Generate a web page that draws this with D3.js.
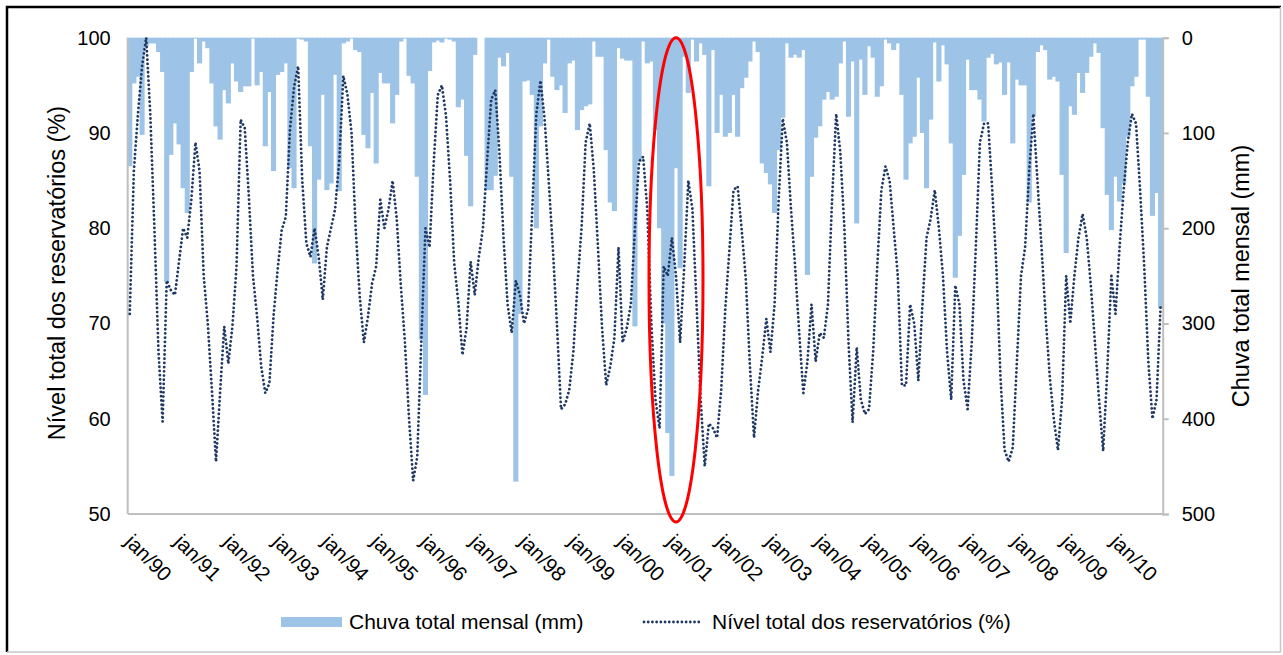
<!DOCTYPE html>
<html>
<head>
<meta charset="utf-8">
<script src="https://cdn.jsdelivr.net/npm/d3@7"></script>
<style>
  body { margin: 0; background: #fff; }
  svg { font-family: "Liberation Sans", Arial, sans-serif; }
</style>
</head>
<body>
<div id="graph"></div>
<script>
// anos e meses (categorias)
var anos = ["90","91","92","93","94","95","96","97","98","99","00","01","02","03","04","05","06","07","08","09","10"];
var meses = ["jan","fev","mar","abr","mai","jun","jul","ago","set","out","nov","dez"];

// chuva total mensal (mm), jan..dez de cada ano
var chuva = [
  135, 48, 41, 102, 9, 6, 6, 15, 36, 257, 123, 90,      // 1990
  112, 158, 184, 36, 1, 27, 4, 11, 48, 93, 107, 55,     // 1991
  69, 27, 46, 57, 51, 51, 1, 50, 36, 114, 57, 140,      // 1992
  39, 36, 27, 137, 158, 1, 2, 4, 114, 237, 149, 60,     // 1993
  160, 153, 39, 161, 6, 4, 1, 13, 15, 102, 116, 58,     // 1994
  132, 37, 48, 48, 90, 60, 4, 1, 40, 48, 146, 317,      // 1995
  375, 35, 5, 3, 5, 1, 2, 4, 73, 65, 124, 177,          // 1996
  18, 0, 0, 160, 160, 145, 21, 30, 16, 146, 466, 290,   // 1997
  46, 45, 60, 200, 93, 27, 2, 41, 55, 50, 79, 27,       // 1998
  24, 97, 76, 72, 70, 4, 20, 20, 118, 173, 182, 11,     // 1999
  22, 24, 24, 303, 130, 4, 27, 25, 97, 200, 300, 415,   // 2000
  460, 137, 242, 20, 58, 2, 25, 6, 18, 156, 13, 100,    // 2001
  60, 104, 100, 60, 104, 53, 42, 25, 4, 15, 132, 142,   // 2002
  154, 184, 118, 84, 6, 21, 18, 21, 13, 249, 146, 105,  // 2003
  93, 65, 57, 65, 62, 27, 4, 83, 25, 195, 23, 60,       // 2004
  9, 21, 62, 51, 2, 6, 13, 6, 60, 149, 111, 104,        // 2005
  42, 100, 158, 86, 5, 46, 8, 28, 111, 252, 208, 144,   // 2006
  23, 55, 55, 65, 88, 21, 17, 28, 26, 60, 26, 111,      // 2007
  44, 50, 50, 173, 83, 15, 8, 13, 44, 41, 46, 144,      // 2008
  226, 72, 81, 37, 58, 37, 20, 6, 16, 95, 165, 202,     // 2009
  146, 172, 153, 104, 51, 41, 2, 2, 62, 187, 163, 284   // 2010
];

// nível total dos reservatórios (%)
var nivel = [
  71, 86, 92, 97, 100, 92, 80, 67, 59.7, 74.5, 73.5, 73,
  76.5, 80, 79, 83, 89, 86, 75, 70, 63, 55.5, 62.8, 69.7,
  65.8, 69.7, 76, 91.4, 90.5, 83.3, 75, 70.7, 65.5, 62.7, 63.7, 70.7,
  75.6, 79.8, 81.2, 90.3, 94.8, 97, 85, 78.4, 77, 80, 77, 72.5,
  78, 80, 82, 87, 96, 94, 90, 80, 72.8, 68, 70.7, 74.2,
  76, 83, 80, 82, 85, 81, 74, 68, 60, 53.5, 56, 68.3,
  80, 78, 86.8, 94, 95, 91.8, 85, 76.3, 72.2, 66.7, 69.5, 76.5,
  73, 77, 80, 87, 93.5, 94.5, 88, 79, 72, 69, 74.5, 73,
  70, 71.5, 82, 92, 95.5, 91.5, 85, 78, 70, 61, 61.5, 63,
  67, 74, 80, 89, 91, 86, 78, 69.5, 63.5, 65.5, 68.5, 78,
  68, 69.5, 72, 80, 87, 87.5, 82, 70, 62, 59, 76, 75,
  79, 75, 68, 76, 85, 82, 72, 62, 55, 59.5, 59, 58,
  63, 71.5, 77.7, 84, 84.4, 79.8, 74.6, 65.5, 58, 63, 66.5, 70.5,
  67, 72, 83, 91.5, 89, 82, 76, 69, 62.7, 66, 72, 66,
  69, 68.5, 72, 83, 92, 88, 80, 68, 59.6, 67.5, 62, 60.5,
  61, 67, 76, 84, 86.5, 85, 80, 75, 63.5, 63.5, 72, 70,
  64, 72, 79, 81, 84, 80, 75, 67, 62, 74, 72, 64,
  61, 68, 78, 89, 91, 91, 84, 76, 64.4, 56.7, 55.5, 57,
  66, 75, 78, 86, 92, 85, 78, 70.7, 64.4, 59.9, 56.7, 62,
  75, 70, 75, 79, 81.5, 79, 74, 68, 62, 56.6, 65, 75,
  71, 78, 84, 89, 92, 91, 84, 76, 66, 60, 62, 72
];

var ticksNivel = [50, 60, 70, 80, 90, 100];
var ticksChuva = [0, 100, 200, 300, 400, 500];
var destaque = "fev/01"; // mês marcado pela elipse

var categorias = [];
anos.forEach(a => meses.forEach(m => categorias.push(m + "/" + a)));

var data = categorias.map((c, i) => ({ mes: c, chuva: chuva[i], nivel: nivel[i] }));

var W = 1283, H = 655;
var margin = { top: 37.7, right: 120.3, bottom: 141, left: 127.7 },
    width = W - margin.left - margin.right,
    height = H - margin.top - margin.bottom;

var svg0 = d3.select("#graph").append("svg")
    .attr("width", W)
    .attr("height", H);

// moldura
svg0.append("rect")
    .attr("x", 1).attr("y", 1).attr("width", W - 2).attr("height", H - 2)
    .attr("fill", "#fff");
svg0.append("path")
    .attr("d", "M7," + (H - 3) + "V7H" + (W - 2))
    .attr("fill", "none").attr("stroke", "#000").attr("stroke-width", 2.5);
svg0.append("path")
    .attr("d", "M" + (W - 2.5) + ",7V" + (H - 3) + "H7")
    .attr("fill", "none").attr("stroke", "#c8c8c8").attr("stroke-width", 1.5);

var svg = svg0.append("g")
    .attr("transform", "translate(" + margin.left + "," + margin.top + ")");

var x = d3.scaleBand()
    .domain(categorias)
    .range([0, width])
    .padding(0);
var yN = d3.scaleLinear().domain([50, 100]).range([height, 0]);
var yC = d3.scaleLinear().domain([0, 500]).range([0, height]);

// barras de chuva penduradas no topo (encostadas umas nas outras)
svg.selectAll(".bar")
    .data(data)
    .enter().append("rect")
    .attr("class", "bar")
    .attr("x", d => x(d.mes) - 0.5)
    .attr("y", 0)
    .attr("width", x.bandwidth() + 1)
    .attr("height", d => yC(d.chuva))
    .attr("fill", "#9dc3e6");

// eixos
var cinza = "#bfbfbf";
svg.append("line")
    .attr("x1", 0).attr("x2", 0).attr("y1", 0).attr("y2", height)
    .attr("stroke", cinza).attr("stroke-width", 2);
svg.append("line")
    .attr("x1", 0).attr("x2", width).attr("y1", height).attr("y2", height)
    .attr("stroke", cinza).attr("stroke-width", 2);

var axR = svg.append("g")
    .attr("transform", "translate(" + width + ",0)")
    .call(d3.axisRight(yC).tickValues(ticksChuva).tickSize(6).tickPadding(13));
axR.select(".domain").attr("stroke", cinza).attr("stroke-width", 2);
axR.selectAll(".tick line").attr("stroke", cinza).attr("stroke-width", 2);
axR.selectAll("text").attr("fill", "#000").style("font-size", "20px")
    .style("font-family", "Liberation Sans, Arial, sans-serif");

var axL = svg.append("g")
    .call(d3.axisLeft(yN).tickValues(ticksNivel).tickSize(0).tickPadding(17));
axL.select(".domain").remove();
axL.selectAll("text").attr("fill", "#000").style("font-size", "20px")
    .style("font-family", "Liberation Sans, Arial, sans-serif");

// rótulos do eixo x, um por ano
var rotulos = anos.map(a => "jan/" + a);
svg.selectAll(".xlab")
    .data(rotulos)
    .enter().append("text")
    .attr("class", "xlab")
    .attr("transform", d => "translate(" + (x(d) + x.bandwidth() / 2 - 1) + "," + (height + 24) + ") rotate(45)")
    .attr("dy", "0.35em")
    .style("font-size", "20.5px")
    .text(d => d);

// linha do nível (pontilhada)
var line = d3.line()
    .x(d => x(d.mes) + x.bandwidth() / 2)
    .y(d => yN(d.nivel));
svg.append("path")
    .datum(data)
    .attr("d", line)
    .attr("fill", "none")
    .attr("stroke", "#1f3864")
    .attr("stroke-width", 2.8)
    .attr("stroke-linecap", "round")
    .attr("stroke-linejoin", "round")
    .attr("stroke-dasharray", "0.01 4.2");

// elipse vermelha de destaque
var cx = x(destaque) + x.bandwidth() / 2;
svg.append("ellipse")
    .attr("cx", cx)
    .attr("cy", (yN(100) + yN(50) + 8) / 2)
    .attr("rx", 27)
    .attr("ry", (yN(50) + 8 - yN(100)) / 2)
    .attr("fill", "none")
    .attr("stroke", "#ff0000")
    .attr("stroke-width", 3);

// títulos dos eixos
svg0.append("text")
    .attr("transform", "translate(57,273) rotate(-90)")
    .attr("text-anchor", "middle")
    .attr("dy", "0.35em")
    .style("font-size", "23.5px")
    .text("Nível total dos reservatórios (%)");
svg0.append("text")
    .attr("transform", "translate(1241,276) rotate(-90)")
    .attr("text-anchor", "middle")
    .attr("dy", "0.35em")
    .style("font-size", "23.5px")
    .text("Chuva total mensal (mm)");

// legenda
var leg = svg0.append("g").attr("transform", "translate(0,622)");
leg.append("rect")
    .attr("x", 281).attr("y", -5).attr("width", 61).attr("height", 10)
    .attr("fill", "#9dc3e6");
leg.append("text")
    .attr("x", 349).attr("dy", "0.35em")
    .style("font-size", "21px")
    .text("Chuva total mensal (mm)");
leg.append("line")
    .attr("x1", 644).attr("x2", 700)
    .attr("stroke", "#1f3864")
    .attr("stroke-width", 2.8)
    .attr("stroke-linecap", "round")
    .attr("stroke-dasharray", "0.01 4.2");
leg.append("text")
    .attr("x", 712).attr("dy", "0.35em")
    .style("font-size", "21px")
    .text("Nível total dos reservatórios (%)");
</script>
</body>
</html>
